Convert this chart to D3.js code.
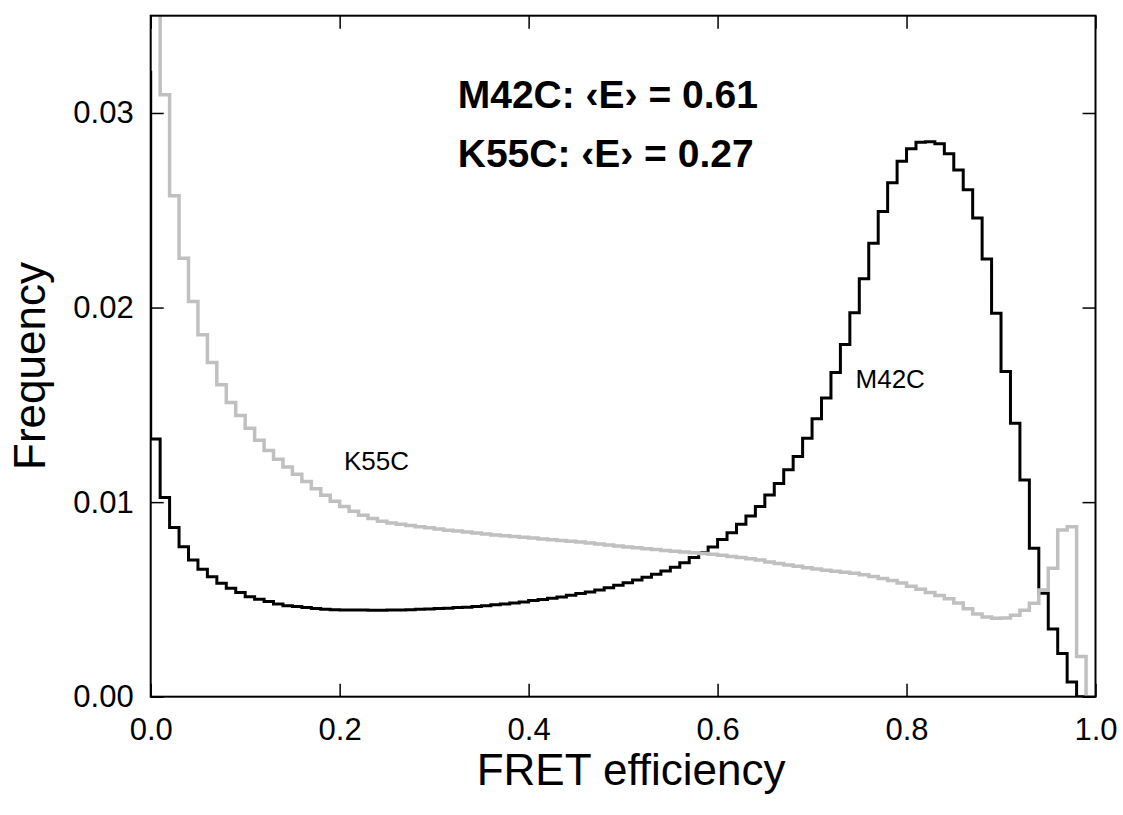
<!DOCTYPE html>
<html>
<head>
<meta charset="utf-8">
<script src="https://cdn.jsdelivr.net/npm/d3@7"></script>
<style>
  html, body { margin: 0; padding: 0; background: #fff; }
  svg text { font-family: "Liberation Sans", Arial, Helvetica, sans-serif; fill: #000; }
</style>
</head>
<body>
<svg id="chart"></svg>
<script>
(function() {

// ---------------- data ----------------
// histogram bins of width 0.01; first bin starts at E = -0.01
const binWidth = 0.01;
const firstBin = -0.01;

// M42C (black)
const m42c = [
  0.0321,
  0.01324, 0.01024, 0.00869, 0.00771, 0.00703, 0.00655, 0.00617, 0.00583, 0.00557, 0.00535,
  0.00514, 0.00501, 0.00489, 0.00477, 0.00468, 0.00463, 0.00458, 0.00453, 0.00449, 0.00447,
  0.00446, 0.00445, 0.00445, 0.00444, 0.00444, 0.00445, 0.00446, 0.00447, 0.00449, 0.00451,
  0.00453, 0.00455, 0.00458, 0.00460, 0.00463, 0.00468, 0.00472, 0.00477, 0.00482, 0.00487,
  0.00494, 0.00499, 0.00506, 0.00513, 0.00521, 0.00530, 0.00538, 0.00549, 0.00560, 0.00573,
  0.00586, 0.00600, 0.00614, 0.00629, 0.00646, 0.00665, 0.00689, 0.00716, 0.00740, 0.00770,
  0.00808, 0.00842, 0.00886, 0.00929, 0.00978, 0.01037, 0.01096, 0.01166, 0.01234, 0.01328,
  0.01428, 0.01535, 0.01666, 0.01810, 0.01973, 0.02148, 0.02330, 0.02494, 0.02641, 0.02752,
  0.02816, 0.02850, 0.02852, 0.02842, 0.02790, 0.02707, 0.02606, 0.02460, 0.02249, 0.01971,
  0.01671, 0.01406, 0.01114, 0.00763, 0.00532, 0.00348, 0.00222, 0.00075, 0, 0
];

// K55C (grey) - first value above the plot top, clipped
const k55c = [
  null,
  0.0412, 0.03094, 0.02575, 0.02254, 0.02031, 0.01860, 0.01718, 0.01603, 0.01512, 0.01445,
  0.01380, 0.01318, 0.01265, 0.01220, 0.01180, 0.01143, 0.01106, 0.01069, 0.01035, 0.01005,
  0.00977, 0.00953, 0.00933, 0.00916, 0.00902, 0.00893, 0.00886, 0.00880, 0.00874, 0.00868,
  0.00862, 0.00856, 0.00851, 0.00846, 0.00841, 0.00836, 0.00831, 0.00827, 0.00823, 0.00819,
  0.00815, 0.00811, 0.00807, 0.00803, 0.00799, 0.00795, 0.00790, 0.00785, 0.00780, 0.00775,
  0.00770, 0.00765, 0.00760, 0.00756, 0.00752, 0.00748, 0.00744, 0.00740, 0.00736, 0.00732,
  0.00727, 0.00721, 0.00715, 0.00709, 0.00702, 0.00692, 0.00684, 0.00677, 0.00670, 0.00663,
  0.00656, 0.00650, 0.00645, 0.00640, 0.00634, 0.00627, 0.00618, 0.00608, 0.00597, 0.00584,
  0.00568, 0.00552, 0.00536, 0.00520, 0.00504, 0.00482, 0.00452, 0.00425, 0.00410, 0.00403,
  0.00405, 0.00418, 0.00444, 0.00480, 0.00549, 0.00660, 0.00857, 0.00874, 0.00206, 0
];

const xTicks = [0, 0.2, 0.4, 0.6, 0.8, 1.0];
const yTicks = [0, 0.01, 0.02, 0.03];
const summary = ["M42C: \u2039E\u203A = 0.61", "K55C: \u2039E\u203A = 0.27"];

// ---------------- layout ----------------
const width = 1123;
const height = 815;
const margin = { top: 15.7, right: 27.5, bottom: 118.3, left: 150.7 };
const innerWidth = width - margin.left - margin.right;
const innerHeight = height - margin.top - margin.bottom;

const x = d3.scaleLinear().domain([0, 1]).range([0, innerWidth]);
const y = d3.scaleLinear().domain([0, 0.035]).range([innerHeight, 0]);

const svg = d3.select("#chart")
  .attr("width", width)
  .attr("height", height);

const g = svg.append("g")
  .attr("transform", `translate(${margin.left},${margin.top})`);

g.append("clipPath").attr("id", "plot-clip")
  .append("rect")
    .attr("width", innerWidth)
    .attr("height", innerHeight);

// step histogram points: (bin start, value), closed with the last bin's right edge
function stepPoints(values) {
  const pts = values.map((v, i) => ({ e: firstBin + i * binWidth, v: v }));
  const last = pts[pts.length - 1];
  pts.push({ e: last.e + binWidth, v: last.v });
  return pts;
}

const line = d3.line()
  .defined(d => d.v !== null)
  .x(d => x(d.e))
  .y(d => y(d.v))
  .curve(d3.curveStepAfter);

const plot = g.append("g").attr("clip-path", "url(#plot-clip)");

plot.append("path")
  .datum(stepPoints(m42c))
  .attr("fill", "none")
  .attr("stroke", "#000")
  .attr("stroke-width", 3)
  .attr("d", line);

plot.append("path")
  .datum(stepPoints(k55c))
  .attr("fill", "none")
  .attr("stroke", "#c0c0c0")
  .attr("stroke-width", 3.5)
  .attr("d", line);

// ---------------- axes (inward ticks on all four sides) ----------------
const tickLen = 13;

const xAxis = g.append("g").attr("transform", `translate(0,${innerHeight})`)
  .call(d3.axisBottom(x).tickValues(xTicks).tickSize(-tickLen).tickPadding(21)
    .tickFormat(d3.format(".1f")));
const xAxisTop = g.append("g")
  .call(d3.axisTop(x).tickValues(xTicks).tickSize(-tickLen).tickFormat(""));
const yAxis = g.append("g")
  .call(d3.axisLeft(y).tickValues(yTicks).tickSize(-tickLen).tickPadding(17)
    .tickFormat(d3.format(".2f")));
const yAxisRight = g.append("g").attr("transform", `translate(${innerWidth},0)`)
  .call(d3.axisRight(y).tickValues(yTicks).tickSize(-tickLen).tickFormat(""));

[xAxis, xAxisTop, yAxis, yAxisRight].forEach(a => {
  a.select(".domain").remove();
  a.selectAll(".tick line").attr("stroke", "#000").attr("stroke-width", 1.5);
  a.selectAll(".tick text").attr("font-size", 31).attr("fill", "#000");
});

g.append("rect")
  .attr("width", innerWidth)
  .attr("height", innerHeight)
  .attr("fill", "none")
  .attr("stroke", "#000")
  .attr("stroke-width", 2);

// ---------------- titles & labels ----------------
svg.append("text")
  .attr("x", margin.left + innerWidth / 2 + 8)
  .attr("y", 785)
  .attr("text-anchor", "middle")
  .attr("font-size", 44)
  .text("FRET efficiency");

svg.append("text")
  .attr("transform", "translate(45,366) rotate(-90)")
  .attr("text-anchor", "middle")
  .attr("font-size", 44)
  .text("Frequency");

g.selectAll("text.summary")
  .data(summary)
  .join("text")
    .attr("class", "summary")
    .attr("x", x(0.325))
    .attr("y", (d, i) => 92 + i * 59)
    .attr("font-size", 39)
    .attr("font-weight", "bold")
    .text(d => d);

g.append("text")
  .attr("x", x(0.2045))
  .attr("y", y(0.01163))
  .attr("font-size", 26)
  .text("K55C");

g.append("text")
  .attr("x", x(0.746))
  .attr("y", y(0.01588))
  .attr("font-size", 26)
  .text("M42C");

})();
</script>
</body>
</html>
